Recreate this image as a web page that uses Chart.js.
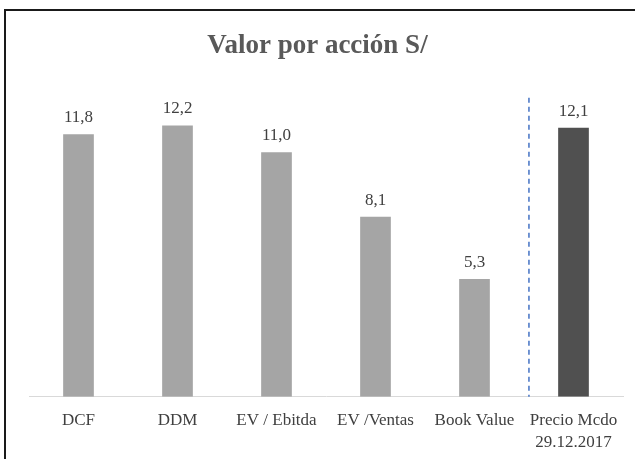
<!DOCTYPE html>
<html>
<head>
<meta charset="utf-8">
<script src="https://cdn.jsdelivr.net/npm/chart.js@4/dist/chart.umd.min.js"></script>
<style>
  html, body { margin: 0; padding: 0; background: #fff; }
  #wrap { position: relative; width: 635px; height: 459px; overflow: hidden; }
  #frame { position: absolute; left: 4px; top: 9px; width: 700px; height: 600px; border: 2px solid #1a1a1a; box-sizing: border-box; }
  canvas { position: absolute; left: 0; top: 0; }
</style>
</head>
<body>
<div id="wrap">
  <div id="frame"></div>
  <canvas id="c" width="635" height="459"></canvas>
</div>
<script>
const categories = ['DCF', 'DDM', 'EV / Ebitda', 'EV /Ventas', 'Book Value', ['Precio Mcdo', '29.12.2017']];
const values = [11.8, 12.2, 11.0, 8.1, 5.3, 12.1];
const barColors = ['#A5A5A5', '#A5A5A5', '#A5A5A5', '#A5A5A5', '#A5A5A5', '#505050'];
const titleText = 'Valor por acción S/';
const dividerPosition = 4.55; // between "Book Value" and "Precio Mcdo"

const FONT = '"Liberation Serif", "Times New Roman", serif';

const labelsPlugin = {
  id: 'valueLabels',
  afterDatasetsDraw(chart) {
    const ctx = chart.ctx;
    const meta = chart.getDatasetMeta(0);
    ctx.save();
    ctx.font = '17px ' + FONT;
    ctx.fillStyle = '#404040';
    ctx.textAlign = 'center';
    ctx.textBaseline = 'alphabetic';
    meta.data.forEach((bar, i) => {
      const txt = values[i].toFixed(1).replace('.', ',');
      ctx.fillText(txt, bar.x, bar.y - 12);
    });
    ctx.restore();
  }
};

const dividerPlugin = {
  id: 'divider',
  afterDatasetsDraw(chart) {
    const x = chart.scales.x.getPixelForValue(dividerPosition);
    const y = chart.scales.y;
    const ctx = chart.ctx;
    ctx.save();
    ctx.strokeStyle = '#4472C4';
    ctx.lineWidth = 1.5;
    ctx.setLineDash([5, 4]);
    ctx.beginPath();
    ctx.moveTo(x, y.getPixelForValue(13.45));
    ctx.lineTo(x, y.getPixelForValue(0));
    ctx.stroke();
    ctx.restore();
  }
};

new Chart(document.getElementById('c'), {
  type: 'bar',
  data: {
    labels: categories,
    datasets: [{
      data: values,
      backgroundColor: barColors,
      borderWidth: 0,
      barPercentage: 0.62,
      categoryPercentage: 0.5
    }]
  },
  options: {
    responsive: false,
    animation: false,
    layout: { padding: { left: 12, right: 12, top: 0, bottom: 5 } },
    plugins: {
      legend: { display: false },
      tooltip: { enabled: false },
      title: {
        display: true,
        text: titleText,
        color: '#595959',
        font: { family: FONT, size: 27, weight: 'bold', lineHeight: 1.2 },
        padding: { top: 30, bottom: 23 }
      }
    },
    scales: {
      x: {
        grid: { display: false, drawTicks: false },
        border: { display: true, color: '#D9D9D9', width: 1 },
        ticks: { color: '#404040', font: { family: FONT, size: 17, lineHeight: 1.3 }, padding: 13, maxRotation: 0, autoSkip: false },
        afterFit: (s) => { s.height = s.height - 13; }
      },
      y: {
        display: true,
        min: 0,
        max: 14,
        grid: { display: false, drawTicks: false },
        border: { display: false },
        ticks: { display: false },
        afterFit: (s) => { s.width = 17; }
      }
    }
  },
  plugins: [labelsPlugin, dividerPlugin]
});
</script>
</body>
</html>
